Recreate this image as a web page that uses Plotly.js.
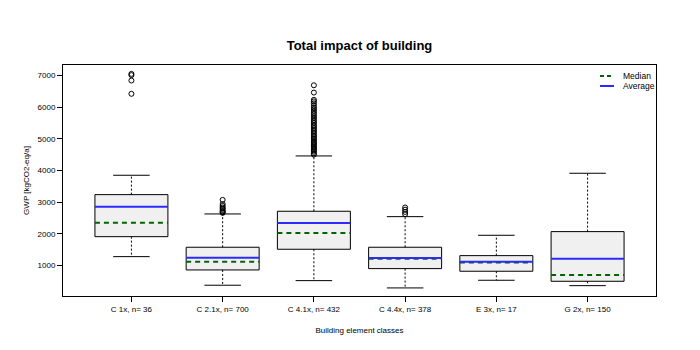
<!DOCTYPE html>
<html>
<head>
<meta charset="utf-8">
<script src="https://cdn.plot.ly/plotly-3.0.1.min.js"></script>
<style>html,body{margin:0;padding:0;background:#fff;}#chart{width:700px;height:350px;}</style>
</head>
<body>
<div id="chart"></div>
<script>
const categories = ['C 1x, n= 36', 'C 2.1x, n= 700', 'C 4.1x, n= 432', 'C 4.4x, n= 378', 'E 3x, n= 17', 'G 2x, n= 150'];
const lowerWhisker = [1278, 375, 520, 290, 532, 362];
const q1 = [1909, 858, 1511, 900, 817, 500];
const median = [2351, 1120, 2026, 1215, 1089, 700];
const mean = [2857, 1246, 2342, 1237, 1120, 1215];
const q3 = [3236, 1575, 2711, 1575, 1310, 2068];
const upperWhisker = [3848, 2626, 4458, 2541, 1953, 3911];
const outliers = [
  [7050, 7010, 6840, 6420],
  [3070, 2940, 2880, 2830, 2790, 2750, 2710, 2680, 2660],
  [6690, 6460, 6230, 6180, 6120, 6050, 5990, 5940, 5880, 5820, 5770, 5710, 5660, 5600, 5550, 5500, 5440, 5390, 5340, 5290, 5240, 5190, 5140, 5090, 5050, 5000, 4960, 4910, 4870, 4830, 4790, 4750, 4710, 4670, 4630, 4590, 4540, 4500],
  [2830, 2760, 2690, 2620],
  [],
  []
];
const yTicks = [1000, 2000, 3000, 4000, 5000, 6000, 7000];
const legendLabels = ['Median', 'Average'];

const MEDIAN_COLOR = '#006400', MEAN_COLOR = '#2b2bff';
const BOX_HALF = 0.4, CAP_HALF = 0.2;
const pos = categories.map((c, i) => i + 1);

function segs(fn) {
  const x = [], y = [];
  pos.forEach((p, i) => { const s = fn(p, i); if (s) { x.push(...s[0], null); y.push(...s[1], null); } });
  return {x, y};
}

const boxes = segs((p, i) => [[p - BOX_HALF, p + BOX_HALF, p + BOX_HALF, p - BOX_HALF, p - BOX_HALF], [q1[i], q1[i], q3[i], q3[i], q1[i]]]);
const whiskUp = segs((p, i) => [[p, p], [q3[i], upperWhisker[i]]]);
const whiskLo = segs((p, i) => [[p, p], [q1[i], lowerWhisker[i]]]);
const capsUp = segs((p, i) => [[p - CAP_HALF, p + CAP_HALF], [upperWhisker[i], upperWhisker[i]]]);
const capsLo = segs((p, i) => [[p - CAP_HALF, p + CAP_HALF], [lowerWhisker[i], lowerWhisker[i]]]);
const medLines = segs((p, i) => [[p - BOX_HALF, p + BOX_HALF], [median[i], median[i]]]);
const meanLines = segs((p, i) => [[p - BOX_HALF, p + BOX_HALF], [mean[i], mean[i]]]);
const outX = [], outY = [];
outliers.forEach((arr, i) => arr.forEach(v => { outX.push(pos[i]); outY.push(v); }));

const MED_DASH = '5px,4px';
const traces = [
  {x: boxes.x, y: boxes.y, type: 'scatter', mode: 'lines', fill: 'toself', fillcolor: '#f0f0f0',
   line: {color: '#000', width: 1}, showlegend: false, hoverinfo: 'skip'},
  {x: whiskUp.x, y: whiskUp.y, type: 'scatter', mode: 'lines', line: {color: '#000', width: 1, dash: '2px,2px'}, showlegend: false, hoverinfo: 'skip'},
  {x: whiskLo.x, y: whiskLo.y, type: 'scatter', mode: 'lines', line: {color: '#000', width: 1, dash: '2px,2px'}, showlegend: false, hoverinfo: 'skip'},
  {x: capsUp.x, y: capsUp.y, type: 'scatter', mode: 'lines', line: {color: '#000', width: 1}, showlegend: false, hoverinfo: 'skip'},
  {x: capsLo.x, y: capsLo.y, type: 'scatter', mode: 'lines', line: {color: '#000', width: 1}, showlegend: false, hoverinfo: 'skip'},
  {x: outX, y: outY, type: 'scatter', mode: 'markers', marker: {symbol: 'circle-open', size: 5, color: '#000', line: {width: 1}}, showlegend: false},
  {x: medLines.x, y: medLines.y, type: 'scatter', mode: 'lines', name: legendLabels[0], showlegend: false, line: {color: MEDIAN_COLOR, width: 2, dash: MED_DASH}},
  {x: meanLines.x, y: meanLines.y, type: 'scatter', mode: 'lines', name: legendLabels[1], showlegend: false, line: {color: MEAN_COLOR, width: 2}}
];

// Legend drawn in paper pixels (plot area is 593 x 231 px)
const PW = 700 - 63 - 44, PH = 350 - 65 - 54;
const px = v => v / PW, py = v => 1 - v / PH;
const legendShapes = [
  {type: 'line', xref: 'paper', yref: 'paper', x0: px(600 - 63), x1: px(614 - 63), y0: py(76 - 65), y1: py(76 - 65), line: {color: MEDIAN_COLOR, width: 2, dash: '4px,3px'}},
  {type: 'line', xref: 'paper', yref: 'paper', x0: px(600 - 63), x1: px(614 - 63), y0: py(86 - 65), y1: py(86 - 65), line: {color: MEAN_COLOR, width: 2}}
];
const legendAnn = legendLabels.map((t, i) => ({
  text: t, xref: 'paper', yref: 'paper', x: px(621 - 63), y: py(76 + 10 * i - 65), xanchor: 'left', yanchor: 'middle',
  showarrow: false, font: {size: 8.5, color: '#000'}
}));

const layout = {
  width: 700, height: 350,
  margin: {l: 63, r: 44, t: 65, b: 54},
  paper_bgcolor: '#fff', plot_bgcolor: '#fff',
  font: {family: 'Liberation Sans, Arial, sans-serif', size: 8, color: '#000'},
  title: {text: '<b>Total impact of building</b>', font: {size: 13, color: '#000'}, x: 0.5, xref: 'paper', xanchor: 'center', y: 0.87, yanchor: 'middle'},
  xaxis: {
    range: [0.25, 6.75], tickvals: pos, ticktext: categories, showgrid: false, zeroline: false,
    showline: true, mirror: true, linecolor: '#000', linewidth: 1,
    ticks: 'outside', ticklen: 5, tickcolor: '#000', tickfont: {size: 8, color: '#000'},
    title: {text: 'Building element classes', font: {size: 8, color: '#000'}, standoff: 14}
  },
  yaxis: {
    range: [35, 7330], tickvals: yTicks, ticktext: yTicks.map(String), showgrid: false, zeroline: false,
    showline: true, mirror: true, linecolor: '#000', linewidth: 1,
    ticks: 'outside', ticklen: 5, tickcolor: '#000', tickfont: {size: 8, color: '#000'},
    title: {text: 'GWP [kgCO2-eq/a]', font: {size: 8, color: '#000'}, standoff: 6}
  },
  shapes: legendShapes,
  annotations: legendAnn,
  showlegend: false
};

Plotly.newPlot('chart', traces, layout, {staticPlot: true, displayModeBar: false});
</script>
</body>
</html>
